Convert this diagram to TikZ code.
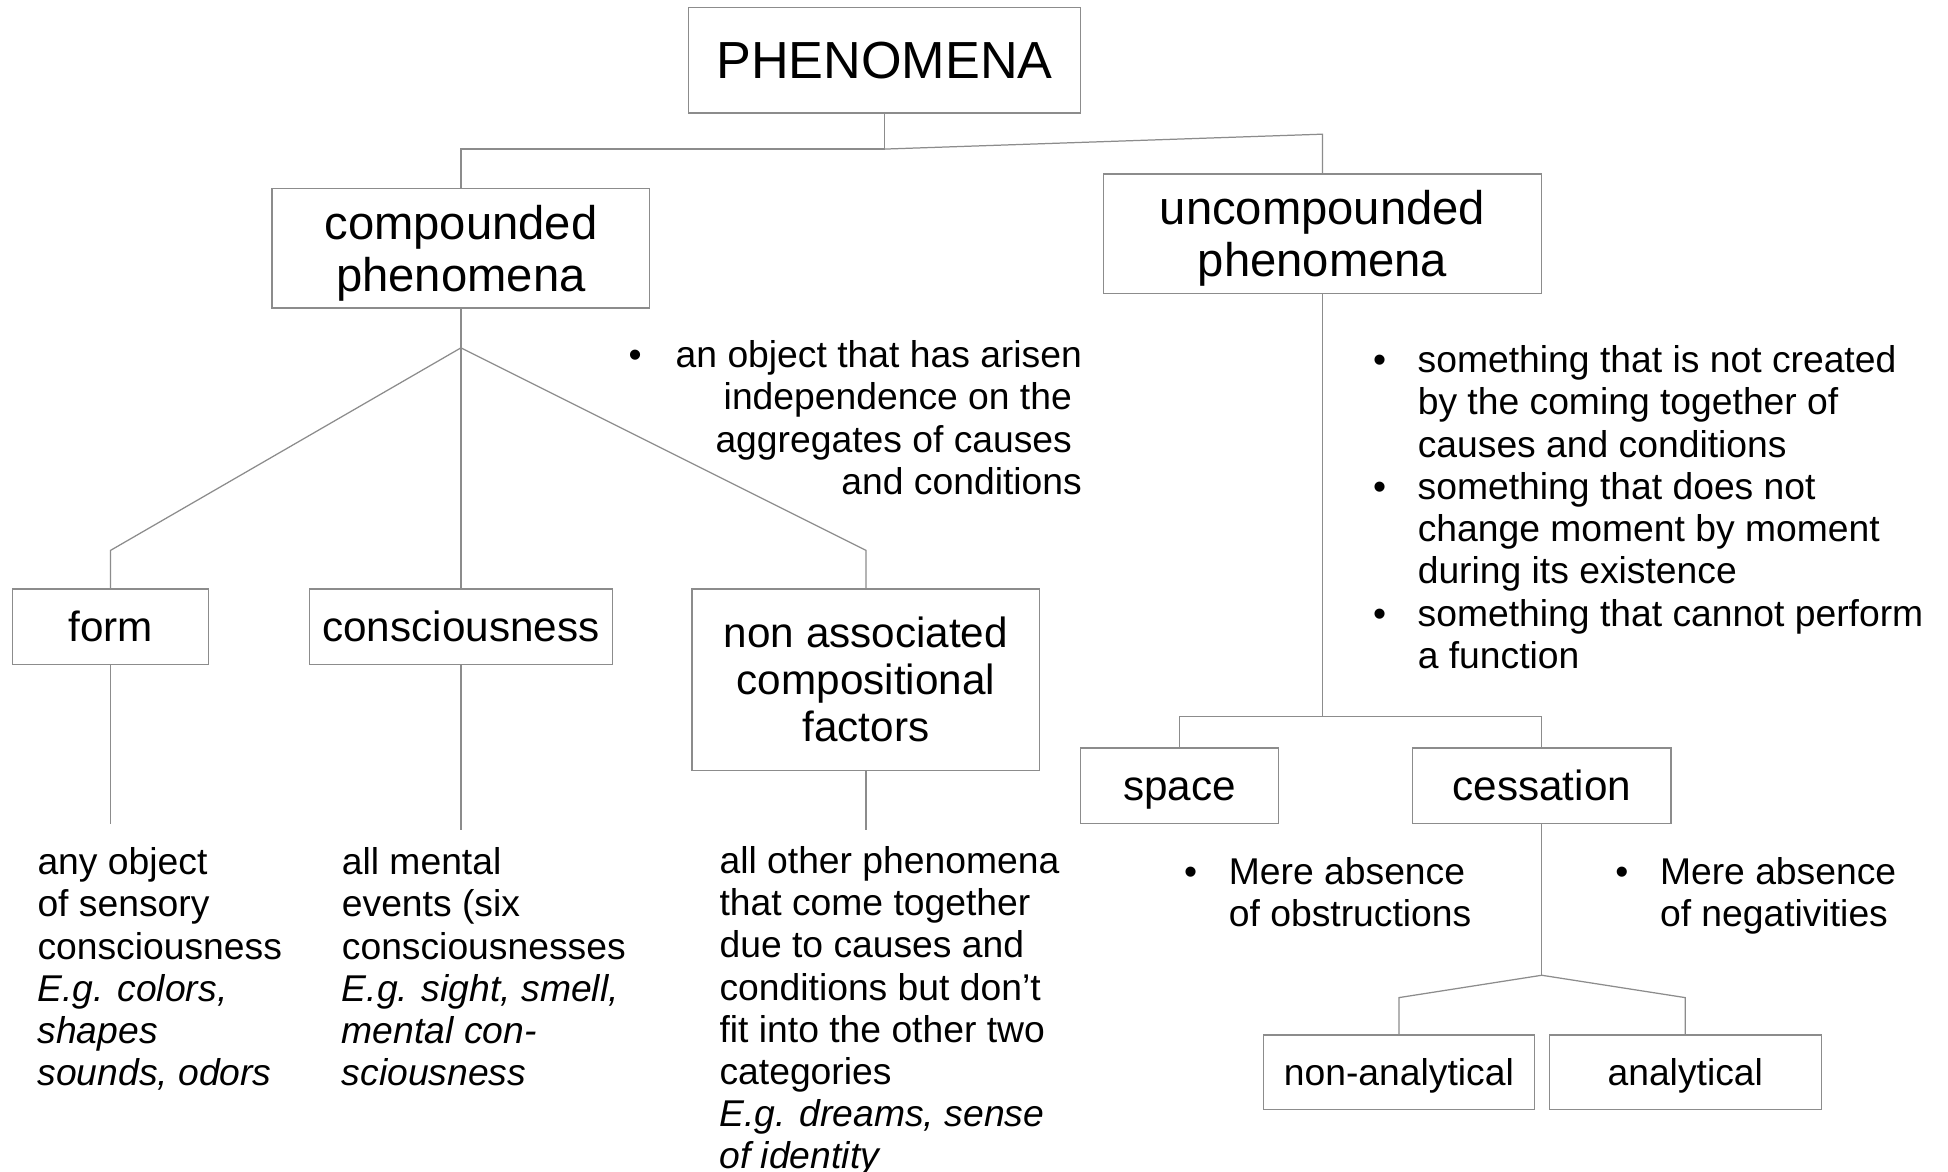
\documentclass[tikz,border=0pt]{standalone}
\usepackage{fontspec}
\setmainfont{Liberation Sans}
\usepackage{tikz}
\usetikzlibrary{positioning}

\definecolor{linegray}{gray}{0.55}

\tikzset{
  conn/.style={draw=linegray,line width=1pt},
  box/.style={draw=linegray,line width=1pt,fill=white,inner sep=0pt,align=center},
  topfont/.style={font=\fontsize{42}{48}\selectfont,text height=34pt,text depth=5pt},
  midfont/.style={font=\fontsize{38}{42}\selectfont},
  subfont/.style={font=\fontsize{34}{38}\selectfont},
  subline/.style={subfont,text height=28pt,text depth=5pt},
  lowline/.style={font=\fontsize{30}{34}\selectfont,text height=26pt,text depth=5pt},
  note/.style={inner sep=0pt,align=left,anchor=north west,font=\fontsize{30}{34}\selectfont}
}
\newcommand{\bul}{\makebox[36pt][l]{\textbullet}}
\newcommand{\ind}{\hspace*{36pt}}
\newcommand{\tailgap}{\hbox to 8pt{}}
\newcommand{\topgap}{\rule{0pt}{35pt}}

\begin{document}
\begin{tikzpicture}[x=1pt,y=-1pt]%
  \useasboundingbox (0,0) rectangle (1568,943);
  \fill[white] (0,0) rectangle (1568,943);
  % boxes
  \begin{scope}
    \node[box,topfont,minimum width=316pt,minimum height=85pt] (phen) at (712,48.5) {PHENOMENA};%%
    \node[box,midfont,minimum width=304pt,minimum height=96pt] (comp) at (371,200) {\topgap compounded\\phenomena};%%
    \node[box,midfont,minimum width=353pt,minimum height=96pt] (uncomp) at (1064.5,188) {\topgap uncompounded\\phenomena};%%
    \node[box,subline,minimum width=158pt,minimum height=61pt] (form) at (89,504.5) {form};%%
    \node[box,subline,minimum width=244pt,minimum height=61pt] (cons) at (371,504.5) {consciousness};%%
    \node[box,subfont,minimum width=280pt,minimum height=146pt] (nonassoc) at (697,547) {non associated\\compositional\\factors};%%
    \node[box,subline,minimum width=159pt,minimum height=61pt] (space) at (949.5,632.5) {space};%%
    \node[box,subline,minimum width=208pt,minimum height=61pt] (cess) at (1241,632.5) {cessation};%%
    \node[box,lowline,minimum width=218pt,minimum height=60pt] (nonan) at (1126,863) {non-analytical};%%
    \node[box,lowline,minimum width=219pt,minimum height=60pt] (anal) at (1356.5,863) {analytical};%%
  \end{scope}
  % joints
  \coordinate (j0) at (712,120);
  \coordinate (j0r) at (1064.5,108);
  \coordinate (j1) at (371,280);
  \coordinate (j1l) at (89,443);
  \coordinate (j1r) at (697,443);
  \coordinate (j2) at (1064.5,577);
  \coordinate (j3) at (1241,785);
  \coordinate (j3l) at (1126,803);
  \coordinate (j3r) at (1356.5,803);
  \coordinate (e1) at (89,663);
  \coordinate (e2) at (371,668);
  \coordinate (e3) at (697,668);
  % connectors
  \draw[conn] (phen.south) -- (j0); %%
  \draw[conn] (j0) -| (comp.north); %%
  \draw[conn] (j0) -- (j0r) -- (uncomp.north); %%
  \draw[conn] (comp.south) -- (j1); %%
  \draw[conn] (j1) -- (j1l) -- (form.north); %%
  \draw[conn] (j1) -- (cons.north); %%
  \draw[conn] (j1) -- (j1r) -- (nonassoc.north); %%
  \draw[conn] (form.south) -- (e1); %%
  \draw[conn] (cons.south) -- (e2); %%
  \draw[conn] (nonassoc.south) -- (e3); %%
  \draw[conn] (uncomp.south) -- (j2); %%
  \draw[conn] (space.north) |- (j2) -| (cess.north); %%
  \draw[conn] (cess.south) -- (j3); %%
  \draw[conn] (j3) -- (j3l) -- (nonan.north); %%
  \draw[conn] (j3) -- (j3r) -- (anal.north); %%
  % texts
  \node[note,align=right,anchor=north east] (compdef) at (871,274) {\makebox[38pt][l]{\textbullet}an object that has arisen\\independence on the\tailgap\\aggregates of causes\tailgap\\and conditions};%%
  \node[note] (uncompdef) at (1105,278) {\bul something that is not created\\\ind by the coming together of\\\ind causes and conditions\\\bul something that does not\\\ind change moment by moment\\\ind during its existence\\\bul something that cannot perform\\\ind a function};%%
  \node[note] (spacedef) at (953,690) {\bul Mere absence\\\ind of obstructions};%%
  \node[note] (cessdef) at (1300,690) {\bul Mere absence\\\ind of negativities};%%
  \node[note] (formdef) at (30,682) {any object\\of sensory\\consciousness\\\textit{E.g. colors,}\\\textit{shapes}\\\textit{sounds, odors}};%%
  \node[note] (consdef) at (275,682) {all mental\\events (six\\consciousnesses\\\textit{E.g. sight, smell,}\\\textit{mental con-}\\\textit{sciousness}};%%
  \node[note] (nonassocdef) at (579,681) {all other phenomena\\that come together\\due to causes and\\conditions but don't\\fit into the other two\\categories\\\textit{E.g. dreams, sense}\\\textit{of identity}};%%
\end{tikzpicture}
\end{document}
